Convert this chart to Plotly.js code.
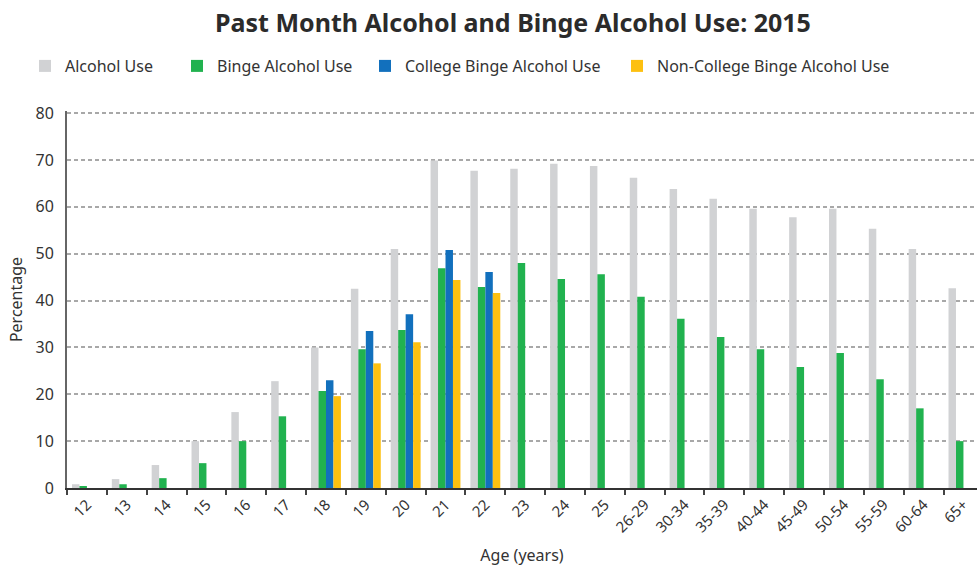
<!DOCTYPE html>
<html>
<head>
<meta charset="utf-8">
<script src="https://cdn.plot.ly/plotly-3.0.1.min.js"></script>
<style>html,body{margin:0;padding:0;background:#fff}#chart{width:977px;height:566px}</style>
</head>
<body>
<div id="chart"></div>
<script>
const ages = ["12","13","14","15","16","17","18","19","20","21","22","23","24","25","26-29","30-34","35-39","40-44","45-49","50-54","55-59","60-64","65+"];
const alcoholUse = [0.8,1.9,4.9,10.0,16.2,22.8,30.0,42.5,51.0,69.9,67.7,68.1,69.2,68.7,66.2,63.8,61.7,59.6,57.8,59.6,55.3,51.0,42.6];
const bingeUse = [0.4,0.8,2.1,5.3,10.0,15.3,20.7,29.6,33.7,46.9,42.9,48.0,44.6,45.6,40.8,36.1,32.2,29.6,25.8,28.8,23.2,17.0,10.0];
const collegeBinge = [null,null,null,null,null,null,23.0,33.5,37.1,50.8,46.1,null,null,null,null,null,null,null,null,null,null,null,null];
const nonCollegeBinge = [null,null,null,null,null,null,19.6,26.6,31.1,44.4,41.6,null,null,null,null,null,null,null,null,null,null,null,null];

const names = ["Alcohol Use","Binge Alcohol Use","College Binge Alcohol Use","Non-College Binge Alcohol Use"];
const colors = ["#d1d2d4","#21b24f","#1270bd","#fdc010"];
const series = [alcoholUse, bingeUse, collegeBinge, nonCollegeBinge];
const legendIds = ["legend","legend2","legend3","legend4"];
const legendTextX = [64, 216, 404, 656];

const FONT = "Noto Sans, Open Sans, sans-serif";
const traces = series.map((vals, i) => ({
  type: "bar",
  name: names[i],
  x: ages,
  y: vals,
  marker: {color: colors[i]},
  legend: legendIds[i],
  hoverinfo: "x+y+name"
}));

const layout = {
  width: 977, height: 566,
  margin: {l: 67, r: 0, t: 111, b: 78},
  paper_bgcolor: "#fff", plot_bgcolor: "#fff",
  font: {family: FONT, color: "#333"},
  barmode: "group",
  bargap: 0.25,
  bargroupgap: 0,
  title: {
    text: "<b>Past Month Alcohol and Binge Alcohol Use: 2015</b>",
    font: {family: FONT, size: 25, color: "#2b2b2b"},
    x: 513 / 977, xref: "container", xanchor: "center",
    y: 1 - 23 / 566, yref: "container", yanchor: "middle"
  },
  xaxis: {
    type: "category",
    range: [-0.5, 22.34],
    tickson: "boundaries",
    ticks: "outside", ticklen: 5, tickwidth: 1.5, tickcolor: "#444",
    tickangle: -45,
    tickfont: {size: 15, color: "#333"},
    showline: true, linecolor: "#333", linewidth: 2,
    showgrid: false, zeroline: false,
    title: {text: "Age (years)", font: {size: 16, color: "#333"}, standoff: 18}
  },
  yaxis: {
    range: [0, 80.45],
    dtick: 10,
    ticks: "",
    tickfont: {size: 16, color: "#333"},
    ticklabelstandoff: 8,
    showline: true, linecolor: "#666", linewidth: 2,
    showgrid: true, gridcolor: "#a8a8a8", gridwidth: 1.5, griddash: "4px,3px",
    zeroline: false,
    title: {text: "Percentage", font: {size: 16, color: "#333"}, standoff: 9}
  },
  showlegend: true
};
legendIds.forEach((id, i) => {
  layout[id] = {
    orientation: "h",
    xref: "container", yref: "container",
    x: (legendTextX[i] - 39) / 977, xanchor: "left",
    y: 1 - 66 / 566, yanchor: "middle",
    bgcolor: "rgba(0,0,0,0)", borderwidth: 0,
    font: {size: 16, color: "#333", family: FONT},
    itemwidth: 30
  };
});

Plotly.newPlot("chart", traces, layout, {displayModeBar: false, responsive: false});
</script>
</body>
</html>
